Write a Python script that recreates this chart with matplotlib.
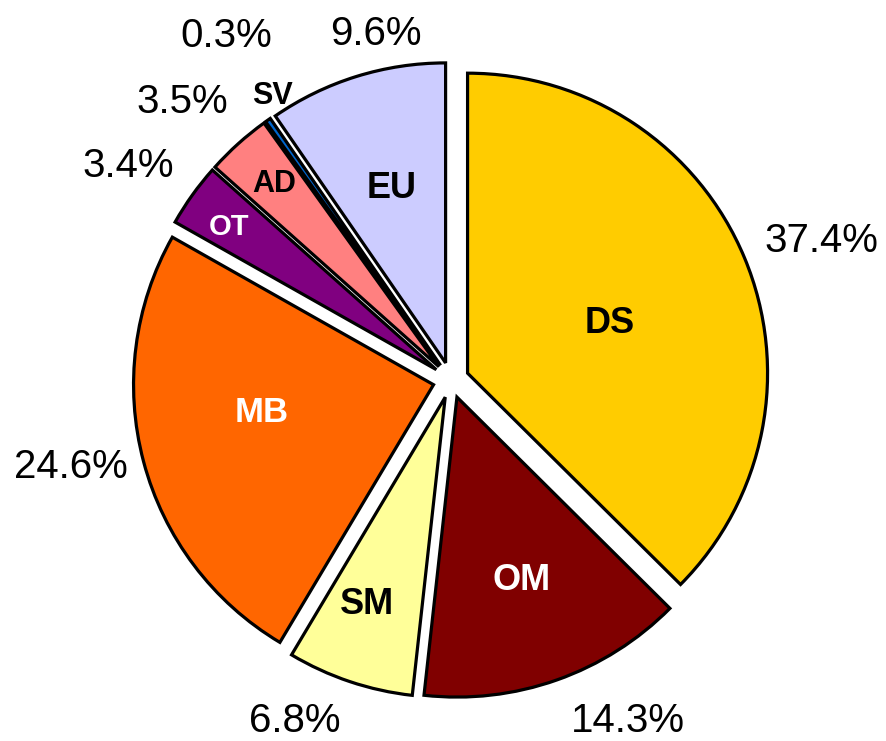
import numpy as np
import matplotlib.pyplot as plt

plt.rcParams['font.family'] = ['Liberation Sans', 'DejaVu Sans']

# slice data, clockwise from 12 o'clock
names = ['DS', 'OM', 'SM', 'MB', 'OT', 'AD', 'SV', 'EU']
shares = [37.4, 14.3, 6.8, 24.6, 3.4, 3.5, 0.3, 9.6]
pct_labels = ['37.4%', '14.3%', '6.8%', '24.6%', '3.4%', '3.5%', '0.3%', '9.6%']

colors = ['#FFCC00', '#800000', '#FFFF99', '#FF6600',
          '#800080', '#FF8080', '#0066CC', '#CCCCFF']
name_colors = ['black', 'white', 'black', 'white', 'white', 'black', 'black', 'black']
name_sizes = [26, 26, 26, 25, 21, 22, 22, 26]
# radial distances (in pie radii) for the labels, tuned to the reference
name_r = [0.56, 0.71, 0.80, 0.64, 0.90, 0.88, 1.12, 0.67]
name_dang = [-3, 0, -2, -5, 1, 0, -3, 0]
pct_r = [1.32, 1.28, 1.25, 1.30, 1.29, 1.29, 1.37, 1.18]
pct_dang = [-2, 8, -6, -2, 2, 2, -2, -5]

fig = plt.figure(figsize=(8.86, 7.41), dpi=100)
ax = fig.add_axes([0, 0, 1, 1])

wedges, _ = ax.pie(shares, colors=colors, startangle=90, counterclock=False,
                   explode=[0.06] * len(shares),
                   wedgeprops=dict(edgecolor='black', linewidth=2.3))

for i, w in enumerate(wedges):
    mid = np.deg2rad((w.theta1 + w.theta2) / 2)
    a = mid + np.deg2rad(name_dang[i])
    ax.text(name_r[i] * np.cos(a), name_r[i] * np.sin(a), names[i],
            ha='center', va='center', fontsize=name_sizes[i],
            fontweight='bold', color=name_colors[i])
    b = mid + np.deg2rad(pct_dang[i])
    ax.text(pct_r[i] * np.cos(b), pct_r[i] * np.sin(b), pct_labels[i],
            ha='center', va='center', fontsize=29, color='black')

ax.set_xlim(-1.503, 1.450)
ax.set_ylim(-1.203, 1.267)
ax.set_aspect('equal')
ax.axis('off')

fig.savefig('out.png', dpi=100)
